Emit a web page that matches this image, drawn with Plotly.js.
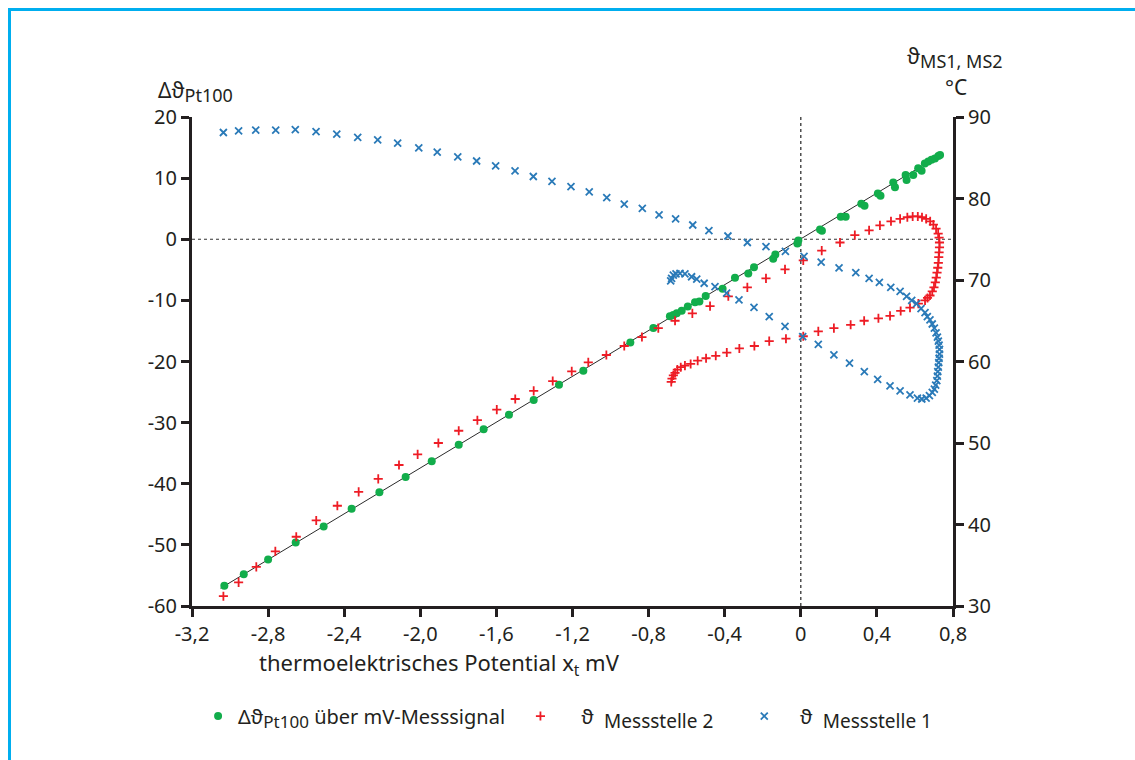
<!DOCTYPE html>
<html>
<head>
<meta charset="utf-8">
<script src="https://cdn.plot.ly/plotly-3.0.1.min.js"></script>
<style>
  html, body { margin: 0; padding: 0; background: #ffffff; }
  #wrap { position: relative; width: 1135px; height: 760px; overflow: hidden; }
  #frame { position: absolute; left: 8px; top: 8px; width: 1200px; height: 800px;
           border-top: 3px solid #00aeef; border-left: 3px solid #00aeef; pointer-events: none; }
  #chart { position: absolute; left: 0; top: 0; width: 1135px; height: 760px; }
</style>
</head>
<body>
<div id="wrap">
  <div id="chart"></div>
  <div id="frame"></div>
</div>
<script>
// ---- data ----
// Δϑ Pt100 over mV signal (left axis)
const pt100X = [-3.030, -2.928, -2.800, -2.655, -2.508, -2.361, -2.215, -2.077, -1.940, -1.798,
  -1.667, -1.534, -1.404, -1.271, -1.143, -0.896, -0.775, -0.688, -0.670, -0.652, -0.626, -0.594,
  -0.556, -0.533, -0.500, -0.411, -0.346, -0.276, -0.246, -0.145, -0.134, -0.018, -0.013, 0.101,
  0.111, 0.210, 0.236, 0.318, 0.335, 0.405, 0.419, 0.486, 0.495, 0.551, 0.556, 0.591, 0.617,
  0.635, 0.652, 0.670, 0.687, 0.705, 0.723, 0.732];
const pt100Y = [-56.7, -54.8, -52.4, -49.6, -47.0, -44.1, -41.4, -38.9, -36.3, -33.6,
  -31.1, -28.7, -26.3, -23.8, -21.5, -16.9, -14.5, -12.6, -12.4, -12.1, -11.7, -11.0,
  -10.3, -10.2, -9.3, -8.1, -6.3, -5.6, -4.6, -3.2, -2.5, -0.7, -0.2, 1.6,
  1.4, 3.7, 3.7, 5.8, 5.5, 7.5, 7.1, 9.3, 8.5, 10.5, 9.7, 10.5, 11.6,
  11.2, 12.4, 12.7, 13.0, 13.2, 13.6, 13.8];
// linear fit line through the Pt100 points
const fitX = [-3.05, 0.733];
const fitY = [-57.1, 13.8];

// ϑ Messstelle 2 (right axis, °C)
const ms2X = [-3.035, -2.955, -2.862, -2.762, -2.652, -2.547, -2.436, -2.324, -2.221, -2.112,
  -2.014, -1.905, -1.798, -1.700, -1.598, -1.501, -1.404, -1.304, -1.204, -1.117, -1.022, -0.928,
  -0.835, -0.749, -0.661, -0.570, -0.477, -0.381, -0.281, -0.183, -0.083, 0.013, 0.110, 0.206,
  0.284, 0.359, 0.416, 0.474, 0.522, 0.560, 0.588, 0.615, 0.637, 0.659, 0.680, 0.697, 0.711,
  0.722, 0.727, 0.729, 0.729, 0.727, 0.725, 0.723, 0.720, 0.716, 0.712, 0.707, 0.700, 0.691,
  0.679, 0.666, 0.653, 0.618, 0.574, 0.525, 0.469, 0.408, 0.333, 0.262, 0.174, 0.092, 0.013,
  -0.078, -0.166, -0.244, -0.323, -0.389, -0.447, -0.498, -0.542, -0.579, -0.609, -0.631, -0.649,
  -0.661, -0.670, -0.677, -0.681];
const ms2Y = [31.2, 32.9, 34.8, 36.7, 38.5, 40.5, 42.3, 44.0, 45.6, 47.3,
  48.6, 50.0, 51.5, 52.8, 54.1, 55.4, 56.4, 57.6, 58.8, 59.9, 60.8, 61.9,
  63.0, 64.1, 65.0, 65.9, 66.8, 68.0, 69.1, 70.2, 71.3, 72.4, 73.6, 74.6,
  75.5, 76.1, 76.7, 77.2, 77.5, 77.7, 77.8, 77.8, 77.7, 77.5, 77.2, 76.8, 76.3,
  75.7, 75.2, 74.6, 74.0, 73.4, 72.8, 72.1, 71.5, 70.9, 70.3, 69.7, 69.1, 68.6,
  68.1, 67.8, 67.5, 67.1, 66.6, 66.2, 65.6, 65.3, 65.0, 64.5, 64.1, 63.7, 63.1,
  62.8, 62.5, 61.9, 61.6, 61.1, 60.7, 60.4, 60.1, 59.7, 59.5, 59.3, 59.0,
  58.6, 58.3, 57.9, 57.5];

// ϑ Messstelle 1 (right axis, °C)
const ms1X = [-3.035, -2.955, -2.865, -2.760, -2.657, -2.548, -2.439, -2.329, -2.224, -2.119,
  -2.008, -1.911, -1.803, -1.704, -1.604, -1.502, -1.406, -1.308, -1.208, -1.112, -1.020, -0.928,
  -0.833, -0.745, -0.658, -0.568, -0.483, -0.383, -0.281, -0.183, -0.081, 0.017, 0.107, 0.201,
  0.289, 0.359, 0.413, 0.473, 0.522, 0.556, 0.583, 0.609, 0.632, 0.653, 0.665, 0.679, 0.691,
  0.702, 0.711, 0.718, 0.723, 0.727, 0.729, 0.729, 0.727, 0.725, 0.723, 0.720, 0.718, 0.715,
  0.709, 0.702, 0.691, 0.676, 0.659, 0.636, 0.613, 0.574, 0.522, 0.469, 0.404, 0.334, 0.256,
  0.174, 0.092, 0.010, -0.083, -0.166, -0.246, -0.325, -0.390, -0.451, -0.508, -0.547, -0.574,
  -0.609, -0.635, -0.656, -0.670, -0.679, -0.684];
const ms1Y = [88.1, 88.3, 88.4, 88.4, 88.45, 88.2, 87.9, 87.5, 87.2, 86.8,
  86.2, 85.7, 85.1, 84.6, 84.0, 83.4, 82.7, 82.1, 81.45, 80.8, 80.1, 79.3,
  78.8, 78.0, 77.5, 76.75, 76.05, 75.4, 74.6, 74.1, 73.5, 72.9, 72.2, 71.5,
  70.9, 70.2, 69.7, 69.1, 68.6, 68.0, 67.5, 67.1, 66.5, 66.0, 65.5, 65.1, 64.6,
  64.1, 63.5, 63.0, 62.5, 62.0, 61.5, 60.9, 60.4, 59.85, 59.3, 58.75, 58.2, 57.65,
  57.1, 56.6, 56.2, 55.8, 55.5, 55.4, 55.5, 55.9, 56.4, 57.0, 57.8, 58.75, 59.8,
  60.8, 62.1, 63.05, 64.3, 65.5, 66.65, 67.55, 68.4, 69.2, 69.6, 70.1, 70.4,
  70.75, 70.8, 70.75, 70.6, 70.2, 69.9];

// tick labels
const xTickVals = [-3.2, -2.8, -2.4, -2.0, -1.6, -1.2, -0.8, -0.4, 0, 0.4, 0.8];
const xTickText = ['-3,2', '-2,8', '-2,4', '-2,0', '-1,6', '-1,2', '-0,8', '-0,4', '0', '0,4', '0,8'];
const yLeftVals = [-60, -50, -40, -30, -20, -10, 0, 10, 20];
const yLeftText = ['-60', '-50', '-40', '-30', '-20', '-10', '0', '10', '20'];
const yRightVals = [30, 40, 50, 60, 70, 80, 90];
const yRightText = ['30', '40', '50', '60', '70', '80', '90'];

// legend / title texts
const NB = '\u00a0';
const legendNames = [
  'Δϑ<sub><span style="font-size:17px">Pt100</span></sub> über mV-Messsignal' + NB.repeat(2),
  NB.repeat(4) + 'ϑ' + NB + ' <sub><span style="font-size:19px">Messstelle 2</span></sub>' + NB.repeat(5),
  NB.repeat(3) + 'ϑ' + NB + ' <sub><span style="font-size:19px">Messstelle 1</span></sub>'
];
const xTitle = 'thermoelektrisches Potential x<sub>t</sub> mV';
const yLeftTitle = 'Δϑ<sub><span style="font-size:18px">Pt100</span></sub>';
const yRightTitle1 = 'ϑ<sub><span style="font-size:18px">MS1, MS2</span></sub>';
const yRightTitle2 = '°C';

// ---- chart ----
const FONT = 'Noto Sans, Open Sans, sans-serif';
const INK = '#231f20';

const traces = [
  { x: fitX, y: fitY, type: 'scatter', mode: 'lines', yaxis: 'y',
    line: { color: '#2b2b2b', width: 1 }, showlegend: false, hoverinfo: 'skip' },
  { x: pt100X, y: pt100Y, type: 'scatter', mode: 'markers', yaxis: 'y', name: legendNames[0],
    marker: { symbol: 'circle', size: 8, color: '#12ad4b' } },
  { x: ms2X, y: ms2Y, type: 'scatter', mode: 'markers', yaxis: 'y2', name: legendNames[1],
    marker: { symbol: 'cross-thin', size: 6.5, color: '#ee1c25', line: { color: '#ee1c25', width: 1.8 } } },
  { x: ms1X, y: ms1Y, type: 'scatter', mode: 'markers', yaxis: 'y2', name: legendNames[2],
    marker: { symbol: 'x-thin', size: 7, color: '#2a7ab8', line: { color: '#2a7ab8', width: 1.8 } } }
];

const layout = {
  width: 1135, height: 760,
  margin: { l: 192, r: 182, t: 117, b: 154 },
  paper_bgcolor: 'rgba(0,0,0,0)', plot_bgcolor: '#ffffff',
  font: { family: FONT, size: 20, color: INK },
  showlegend: true,
  legend: { orientation: 'h', x: 0.008, xanchor: 'left', y: -0.225, yanchor: 'middle',
            font: { family: FONT, size: 20, color: INK }, bgcolor: 'rgba(0,0,0,0)' },
  xaxis: { range: [-3.2, 0.8], tickvals: xTickVals, ticktext: xTickText,
           showgrid: false, zeroline: false, showline: true, linecolor: INK, linewidth: 3,
           ticks: 'outside', ticklen: 8, tickwidth: 3, tickcolor: INK,
           tickfont: { family: FONT, size: 20, color: INK }, fixedrange: true },
  yaxis: { range: [-60, 20], tickvals: yLeftVals, ticktext: yLeftText,
           showgrid: false, zeroline: false, showline: true, linecolor: INK, linewidth: 3,
           ticks: 'outside', ticklen: 8, tickwidth: 3, tickcolor: INK,
           tickfont: { family: FONT, size: 20, color: INK }, fixedrange: true },
  yaxis2: { range: [30, 90], tickvals: yRightVals, ticktext: yRightText, overlaying: 'y', side: 'right',
            showgrid: false, zeroline: false, showline: true, linecolor: INK, linewidth: 3,
            ticks: 'outside', ticklen: 8, tickwidth: 3, tickcolor: INK,
            tickfont: { family: FONT, size: 20, color: INK }, fixedrange: true },
  shapes: [
    { type: 'line', xref: 'paper', x0: 0, x1: 1, yref: 'y', y0: 0, y1: 0, layer: 'below',
      line: { color: '#333333', width: 1.2, dash: '3px,3px' } },
    { type: 'line', xref: 'x', x0: 0, x1: 0, yref: 'paper', y0: 0, y1: 1, layer: 'below',
      line: { color: '#333333', width: 1.3, dash: '3px,3px' } }
  ],
  annotations: [
    { text: yLeftTitle, xref: 'paper', yref: 'paper', x: 0.0046, y: 1.053, xanchor: 'center', yanchor: 'middle',
      showarrow: false, font: { family: FONT, size: 21, color: INK } },
    { text: yRightTitle1, xref: 'paper', yref: 'paper', x: 1.0022, y: 1.122, xanchor: 'center', yanchor: 'middle',
      showarrow: false, font: { family: FONT, size: 21, color: INK } },
    { text: yRightTitle2, xref: 'paper', yref: 'paper', x: 1.004, y: 1.062, xanchor: 'center', yanchor: 'middle',
      showarrow: false, font: { family: FONT, size: 21, color: INK } },
    { text: xTitle, xref: 'paper', yref: 'paper', x: 0.0855, y: -0.1186, xanchor: 'left', yanchor: 'middle',
      showarrow: false, font: { family: FONT, size: 22, color: INK } }
  ]
};

Plotly.newPlot('chart', traces, layout, { staticPlot: true, displayModeBar: false });
</script>
</body>
</html>
